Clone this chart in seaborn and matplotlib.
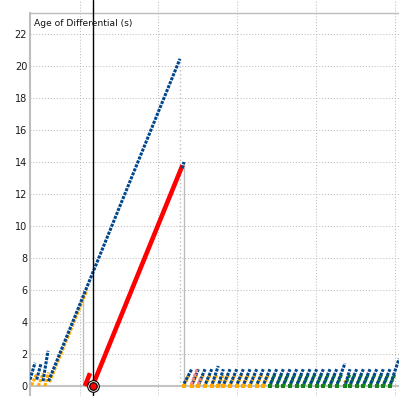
import numpy as np
import pandas as pd
import matplotlib
matplotlib.use("Agg")
import matplotlib.pyplot as plt
import seaborn as sns

# ── Data (time in s along x, age of differential in s along y) ────────────────
# ramps / teeth: (t_start, age_start, t_end, age_end)
blue_ramps   = [(0.00, 0.40, 0.79, 1.45), (1.06, 0.40, 1.74, 1.40), (2.06, 0.30, 2.85, 2.20),
                (2.93, 0.30, 23.73, 20.45), (24.05, 13.60, 24.37, 14.00)]
orange_ramps = [(0.24, 0.05, 1.03, 0.75), (1.31, 0.00, 2.10, 0.80), (2.37, 0.00, 2.93, 0.85),
                (3.09, 0.25, 9.02, 6.00), (49.75, 0.20, 49.98, 0.32)]
red_ramps    = [(8.70, 0.00, 9.49, 0.80), (9.89, 0.00, 24.13, 13.80)]
pink_ramps   = [(25.52, 0.10, 26.47, 1.08), (26.63, 0.10, 26.98, 0.50)]

# small sawtooth after the reset: peak times and peak ages of the blue teeth
blue_reset_t  = 24.37
blue_base_age = 0.15
blue_peak_t   = [25.59, 26.63, 27.69, 28.75, 29.79, 30.59, 31.65, 32.71, 33.75, 34.81, 35.87,
                 36.91, 37.97, 39.03, 40.08, 41.14, 42.20, 43.24, 44.30, 45.36, 46.41, 47.47,
                 48.53, 49.84, 50.63, 51.69, 52.74, 53.80, 54.86, 55.90, 56.96, 58.40]
blue_peak_age = [1.05, 1.05, 1.05, 1.05, 1.25, 1.05, 1.05, 1.05, 1.05, 1.05, 1.05,
                 1.05, 1.05, 1.05, 1.05, 1.05, 1.05, 1.05, 1.05, 1.05, 1.05, 1.05,
                 1.05, 1.42, 1.05, 1.05, 1.05, 1.05, 1.05, 1.05, 1.05, 1.70]

# orange / green teeth start at 0 and climb for a short while
orange_start_t = [24.37, 25.59, 26.63, 27.69, 28.75, 29.79, 30.59, 31.65, 32.71, 33.75,
                  34.81, 35.87, 36.91]
green_start_t  = [37.97, 39.03, 40.08, 41.14, 42.20, 43.24, 44.30, 45.36, 46.41, 47.47,
                  48.53, 49.84, 50.63, 51.69, 52.74, 53.80, 54.86, 55.90, 56.96]
small_rise_t   = 0.78
small_peak_age = 0.70

cursor_t   = 9.92
drop_solid = [(8.43, 5.90), (24.29, 14.00)]
drop_dot   = [(23.78, 20.40)]
grid_t     = [7.91, 20.25, 32.75, 45.25, 57.75]
yticks     = [0, 2, 4, 6, 8, 10, 12, 14, 16, 18, 20, 22]

C_BLUE, C_ORANGE, C_RED = '#00468c', '#ffaa00', '#ff0000'
C_PINK, C_GREEN, C_GRAY = '#f4877f', '#14861c', '#bdbdbd'

# build blue teeth after the reset
blue_teeth = []
prev = blue_reset_t
for pt, pa in zip(blue_peak_t, blue_peak_age):
    blue_teeth.append((prev + 0.1 if prev != blue_reset_t else prev, blue_base_age, pt, pa))
    prev = pt

orange_teeth = [(t, 0.0, t + small_rise_t, small_peak_age) for t in orange_start_t]
green_teeth  = [(t, 0.0, t + small_rise_t, small_peak_age + 0.05) for t in green_start_t]

# ── Figure ────────────────────────────────────────────────────────────────────
sns.set_style("white")
plt.rcParams['font.family'] = ['DejaVu Sans']

fig = plt.figure(figsize=(3.99, 3.96), dpi=100)
ax = fig.add_axes([30 / 399, 0, 369 / 399, 1])
ax.set_xlim(0, 369 / 6.32)
ax.set_ylim(-10 / 16, 386 / 16)


def to_frame(segs):
    rows = []
    for i, (t0, a0, t1, a1) in enumerate(segs):
        rows.append((i, t0, a0))
        rows.append((i, t1, a1))
    return pd.DataFrame(rows, columns=['tooth', 't', 'age'])


def draw(segs, color, lw, dash, z):
    sns.lineplot(data=to_frame(segs), x='t', y='age', units='tooth', estimator=None,
                 sort=False, color=color, linewidth=lw, linestyle=dash,
                 dash_capstyle='butt', solid_capstyle='butt', legend=False, ax=ax,
                 zorder=z)


# grid + frame lines
dotted = (0, (1, 1.8))
for t in grid_t:
    ax.axvline(t, color=C_GRAY, lw=0.75, ls=dotted, zorder=0.5)
for y in yticks[1:]:
    ax.axhline(y, color=C_GRAY, lw=0.75, ls=dotted, zorder=0.5)
ax.axhline(0, color='#c4c4c4', lw=1.5, zorder=0.8)
ax.axhline(373 / 16, color=C_GRAY, lw=1.0, zorder=0.8)
for t, top in drop_solid:
    ax.vlines(t, 0, top, color=C_GRAY, lw=1.0, zorder=0.8)
for t, top in drop_dot:
    ax.vlines(t, 0, top, color=C_GRAY, lw=1.0, ls=dotted, zorder=0.8)

sq = (0, (1.0, 0.4))
draw(orange_teeth, C_ORANGE, 2.3, sq, 2)
draw(green_teeth, C_GREEN, 2.3, sq, 2)
draw(orange_ramps, C_ORANGE, 2.2, sq, 2)
draw(red_ramps, C_RED, 3.3, '-', 2.5)
draw(blue_teeth, C_BLUE, 2.2, sq, 3)
draw(blue_ramps, C_BLUE, 2.2, sq, 3)
draw(pink_ramps, C_PINK, 2.2, sq, 3.5)

sns.scatterplot(x=orange_start_t, y=[0.0] * len(orange_start_t), marker='s', s=12,
                color=C_ORANGE, linewidth=0, ax=ax, zorder=2.2, legend=False)
sns.scatterplot(x=green_start_t, y=[0.0] * len(green_start_t), marker='s', s=12,
                color=C_GREEN, linewidth=0, ax=ax, zorder=2.2, legend=False)

# cursor
ax.axvline(cursor_t, color='black', lw=1.0, zorder=5)
ax.scatter([cursor_t], [0], s=70, facecolor='white', edgecolor='black', lw=0.8, zorder=6)
ax.scatter([cursor_t], [0], s=30, facecolor=C_RED, edgecolor='black', lw=0.8, zorder=7)

# axes styling
for side in ('top', 'right', 'bottom'):
    ax.spines[side].set_visible(False)
ax.spines['left'].set_color(C_GRAY)
ax.spines['left'].set_linewidth(1.5)
ax.spines['left'].set_bounds(-10 / 16, 373 / 16)
ax.set_xticks([])
ax.set_yticks(yticks)
ax.set_yticklabels([str(v) for v in yticks])
ax.tick_params(axis='y', length=0, pad=2, labelsize=7, labelcolor='#1a1a1a')
ax.set_xlabel('')
ax.set_ylabel('')

fig.text(34 / 399, 1 - 24 / 396, 'Age of Differential (s)', ha='left', va='center',
         fontsize=6.6, color='#111111')

fig.savefig('out.png', dpi=100)
